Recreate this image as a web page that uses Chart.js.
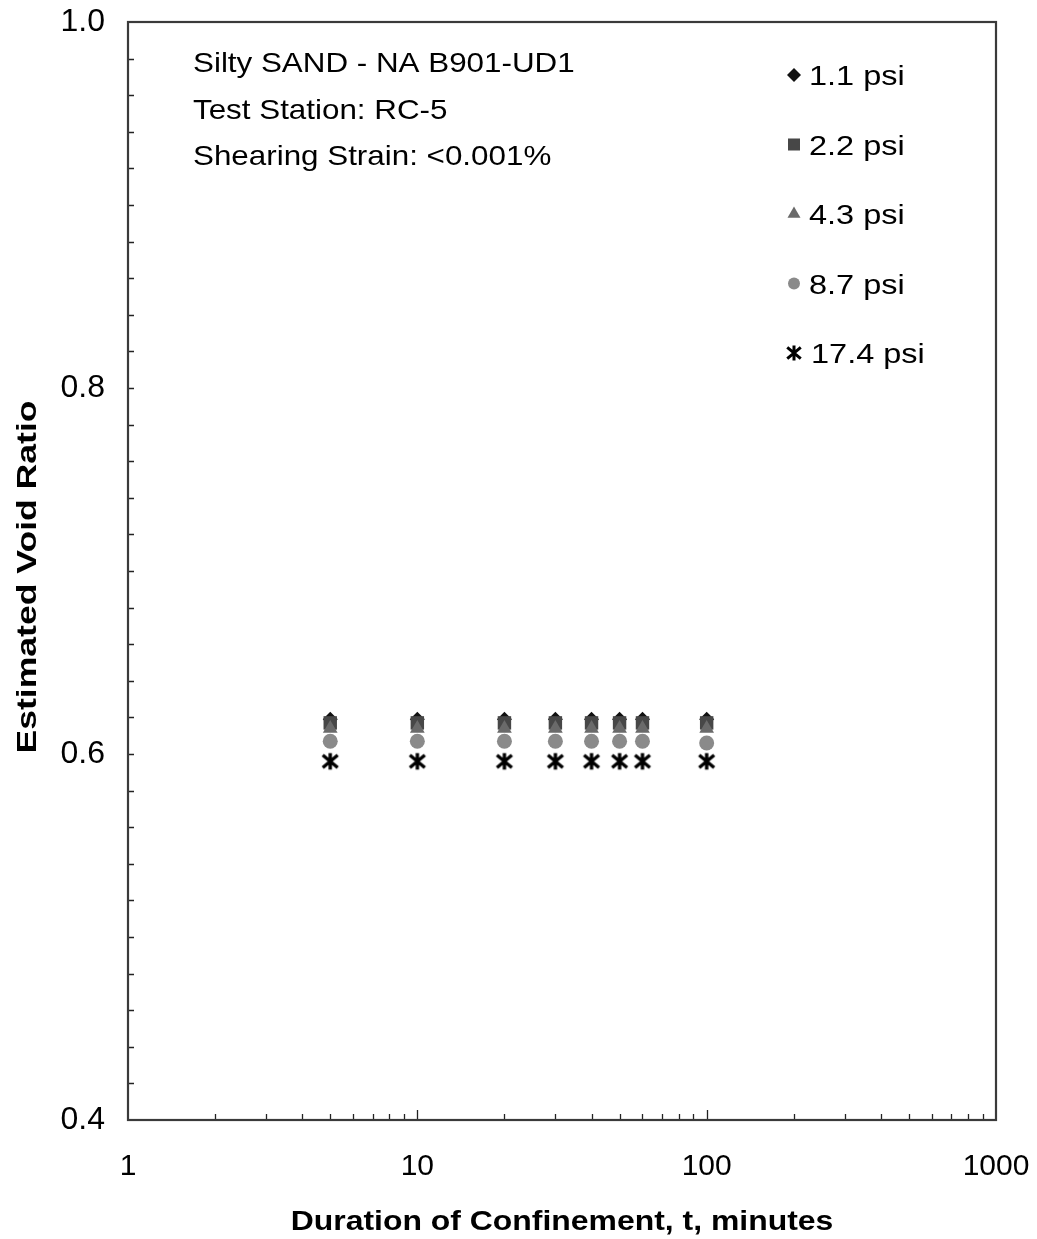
<!DOCTYPE html>
<html>
<head>
<meta charset="utf-8">
<script src="https://cdn.jsdelivr.net/npm/chart.js@4/dist/chart.umd.min.js"></script>
<style>
  body { margin: 0; background: #fff; }
  #wrap { width: 1037px; height: 1239px; }
</style>
</head>
<body>
<div id="wrap"><canvas id="chart" width="1037" height="1239"></canvas></div>
<script>
// confinement times (minutes)
var times = [5, 10, 20, 30, 40, 50, 60, 100];

// estimated void ratio for each confining pressure
var e_1_1 = [0.619, 0.619, 0.619, 0.619, 0.619, 0.619, 0.619, 0.619];
var e_2_2 = [0.617, 0.617, 0.617, 0.617, 0.617, 0.617, 0.617, 0.617];
var e_4_3 = [0.614, 0.614, 0.614, 0.614, 0.614, 0.614, 0.614, 0.614];
var e_8_7 = [0.607, 0.607, 0.607, 0.607, 0.607, 0.607, 0.607, 0.606];
var e_17_4 = [0.596, 0.596, 0.596, 0.596, 0.596, 0.596, 0.596, 0.596];

var seriesNames = ["1.1 psi", "2.2 psi", "4.3 psi", "8.7 psi", "17.4 psi"];
var xTickValues = [1, 10, 100, 1000];
var yTickValues = [0.4, 0.6, 0.8, 1.0];
var noteLines = ["Silty SAND - NA B901-UD1", "Test Station: RC-5", "Shearing Strain: <0.001%"];
var xTitle = "Duration of Confinement, t, minutes";
var yTitle = "Estimated Void Ratio";

var FONT = "'Liberation Sans', Arial, sans-serif";

// asterisk marker (vertical bar + X)
function makeStar(size, lw) {
    var c = document.createElement('canvas');
    c.width = size; c.height = size;
    var g = c.getContext('2d');
    var h = size / 2, r = size / 2 - lw / 2;
    g.strokeStyle = '#000';
    g.lineWidth = lw;
    g.beginPath();
    g.moveTo(h, h - r); g.lineTo(h, h + r);
    g.moveTo(h - r * 0.9, h - r * 0.75); g.lineTo(h + r * 0.9, h + r * 0.75);
    g.moveTo(h + r * 0.9, h - r * 0.75); g.lineTo(h - r * 0.9, h + r * 0.75);
    g.stroke();
    return c;
}
var starBig = makeStar(20, 3.4);
var starSmall = makeStar(18, 3);

function pts(ys) {
    var out = [];
    for (var i = 0; i < times.length; i++) {
        out.push({x: times[i], y: ys[i]});
    }
    return out;
}

var styles = [
    {style: 'rectRot', color: '#111111', r: 7.5, lr: 7},
    {style: 'rect', color: '#474747', r: 9.5, lr: 8.5},
    {style: 'triangle', color: '#6a6a6a', r: 8.5, lr: 7.5},
    {style: 'circle', color: '#8a8a8a', r: 7.5, lr: 6},
    {style: starBig, color: '#000000', r: 10, lr: 9}
];
var allData = [e_1_1, e_2_2, e_4_3, e_8_7, e_17_4];

var datasets = [];
// draw the light markers first so the dark ones sit on top
var order = [4, 3, 2, 1, 0];
for (var k = 0; k < order.length; k++) {
    var i = order[k];
    datasets.push({
        label: seriesNames[i],
        data: pts(allData[i]),
        showLine: false,
        pointStyle: styles[i].style,
        pointRadius: styles[i].r,
        pointHoverRadius: styles[i].r,
        backgroundColor: styles[i].color,
        borderColor: styles[i].color,
        borderWidth: 0
    });
}

function stretchedText(ctx, txt, x, y, sx, sy, rot) {
    ctx.save();
    ctx.translate(x, y);
    if (rot) ctx.rotate(rot);
    ctx.scale(sx, sy);
    ctx.fillText(txt, 0, 0);
    ctx.restore();
}

var framePlugin = {
    id: 'frame',
    afterDraw: function(chart) {
        var ctx = chart.ctx;
        var a = chart.chartArea;
        var xs = chart.scales.x, ys = chart.scales.y;
        ctx.save();

        // inward ticks
        ctx.strokeStyle = '#222';
        ctx.lineWidth = 1.3;
        ctx.beginPath();
        for (var d = 1; d < 1000; d *= 10) {
            for (var m = 1; m <= 9; m++) {
                var v = d * m;
                if (v <= 1) continue;
                var px = Math.round(xs.getPixelForValue(v)) + 0.5;
                var len = (m === 1) ? 10 : 6;
                ctx.moveTo(px, a.bottom);
                ctx.lineTo(px, a.bottom - len);
            }
        }
        for (var t = 21; t < 50; t++) {
            var py = Math.round(ys.getPixelForValue(t / 50)) + 0.5;
            ctx.moveTo(a.left, py);
            ctx.lineTo(a.left + 6, py);
        }
        ctx.stroke();

        // plot frame
        ctx.strokeStyle = '#3a3a3a';
        ctx.lineWidth = 2.2;
        ctx.strokeRect(a.left, a.top, a.right - a.left, a.bottom - a.top);

        // sample description
        ctx.fillStyle = '#000';
        ctx.font = '28px ' + FONT;
        ctx.textAlign = 'left';
        ctx.textBaseline = 'alphabetic';
        for (var n = 0; n < noteLines.length; n++) {
            stretchedText(ctx, noteLines[n], 193, 72 + n * 46.5, 1.12, 1, 0);
        }

        // legend
        for (var j = 0; j < seriesNames.length; j++) {
            var s = styles[j];
            var cy = 75 + j * 69.5;
            var cx = 794;
            ctx.fillStyle = s.color;
            ctx.strokeStyle = s.color;
            if (j === 4) {
                ctx.drawImage(starSmall, cx - 9, cy - 9);
            } else {
                Chart.helpers.drawPoint(ctx, {pointStyle: s.style, radius: s.lr, rotation: 0, borderWidth: 0}, cx, cy);
            }
            ctx.fillStyle = '#000';
            ctx.font = '28px ' + FONT;
            ctx.textAlign = 'left';
            stretchedText(ctx, seriesNames[j], j === 4 ? 811 : 809, cy + 10, 1.16, 1, 0);
        }

        // axis titles
        ctx.font = 'bold 28px ' + FONT;
        ctx.textAlign = 'center';
        ctx.textBaseline = 'middle';
        stretchedText(ctx, xTitle, (a.left + a.right) / 2, 1222, 1.14, 1, 0);
        stretchedText(ctx, yTitle, 28, (a.top + a.bottom) / 2 + 6, 1.27, 1, -Math.PI / 2);

        ctx.restore();
    }
};

function noPad(scale) {
    scale.paddingLeft = 0;
    scale.paddingRight = 0;
    scale.paddingTop = 0;
    scale.paddingBottom = 0;
}

var chart = new Chart(document.getElementById('chart').getContext('2d'), {
    type: 'scatter',
    data: {datasets: datasets},
    plugins: [framePlugin],
    options: {
        responsive: false,
        animation: false,
        events: [],
        layout: {padding: {left: 0, right: 41, top: 22, bottom: 0}},
        plugins: {legend: {display: false}, tooltip: {enabled: false}},
        scales: {
            x: {
                type: 'logarithmic',
                min: 1,
                max: 1000,
                afterBuildTicks: function(scale) {
                    scale.ticks = xTickValues.map(function(v) { return {value: v}; });
                },
                afterFit: function(scale) { scale.height = 119; noPad(scale); },
                grid: {display: false, drawTicks: false},
                border: {display: false},
                ticks: {
                    color: '#000',
                    padding: 29,
                    maxRotation: 0,
                    autoSkip: false,
                    font: {family: FONT, size: 30},
                    callback: function(v) { return String(v); }
                },
                title: {display: false}
            },
            y: {
                min: 0.4,
                max: 1.0,
                afterBuildTicks: function(scale) {
                    scale.ticks = yTickValues.map(function(v) { return {value: v}; });
                },
                afterFit: function(scale) { scale.width = 128; noPad(scale); },
                grid: {display: false, drawTicks: false},
                border: {display: false},
                ticks: {
                    color: '#000',
                    padding: 23,
                    font: {family: FONT, size: 32},
                    callback: function(v) { return Number(v).toFixed(1); }
                },
                title: {display: false}
            }
        }
    }
});
</script>
</body>
</html>
